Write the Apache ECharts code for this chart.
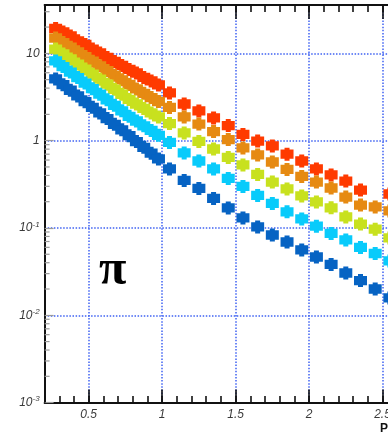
<!DOCTYPE html>
<html>
<head>
<meta charset="utf-8">
<script src="https://cdn.jsdelivr.net/npm/echarts@6/dist/echarts.min.js"></script>
<style>
  html, body { margin: 0; padding: 0; background: #ffffff; }
  #chart { width: 388px; height: 441px; }
</style>
</head>
<body>
<div id="chart"></div>
<script>
// Transverse-momentum bin centres (GeV/c)
const pT = [
  0.275, 0.325, 0.375, 0.425, 0.475, 0.525, 0.575, 0.625, 0.675, 0.725,
  0.775, 0.825, 0.875, 0.925, 0.975, 1.05, 1.15, 1.25, 1.35, 1.45,
  1.55, 1.65, 1.75, 1.85, 1.95, 2.05, 2.15, 2.25, 2.35, 2.45, 2.55
];

// Yields per class (top to bottom)
const yieldClass1 = [
  19.3, 17.6, 15.8, 13.9, 12.65, 11.2, 10.1, 8.98, 8.08, 7.27,
  6.54, 5.96, 5.30, 4.83, 4.35, 3.52, 2.63, 2.19, 1.82, 1.49,
  1.18, 0.99, 0.87, 0.70, 0.585, 0.474, 0.405, 0.345, 0.272, null, 0.245
];
const yieldClass2 = [
  15.0, 13.3, 11.75, 10.4, 9.19, 8.12, 7.19, 6.35, 5.63, 4.97,
  4.40, 3.91, 3.49, 3.12, 2.81, 2.40, 1.87, 1.55, 1.27, 1.03,
  0.825, 0.686, 0.570, 0.468, 0.389, 0.336, 0.287, 0.226, 0.183, 0.174, 0.157
];
const yieldClass3 = [
  11.2, 9.84, 8.63, 7.54, 6.61, 5.78, 5.06, 4.44, 3.88, 3.40,
  2.97, 2.63, 2.34, 2.08, 1.87, 1.57, 1.225, 0.98, 0.803, 0.642,
  0.527, 0.410, 0.336, 0.280, 0.233, 0.199, 0.170, 0.134, 0.111, 0.097, 0.077
];
const yieldClass4 = [
  8.18, 7.06, 6.11, 5.28, 4.57, 3.94, 3.41, 2.94, 2.54, 2.20,
  1.90, 1.68, 1.48, 1.31, 1.153, 0.954, 0.723, 0.585, 0.474, 0.369,
  0.299, 0.236, 0.191, 0.153, 0.127, 0.105, 0.0865, 0.0729, 0.0598, 0.0510, 0.0419
];
const yieldClass5 = [
  5.09, 4.38, 3.78, 3.25, 2.80, 2.41, 2.08, 1.79, 1.54, 1.33,
  1.14, 0.976, 0.838, 0.719, 0.617, 0.474, 0.350, 0.2835, 0.2177, 0.1695,
  0.1302, 0.1027, 0.0831, 0.0691, 0.0560, 0.0465, 0.0382, 0.0305, 0.0250, 0.0200, 0.0158
];

const classNames = ['class 1', 'class 2', 'class 3', 'class 4', 'class 5'];
const classYields = [yieldClass1, yieldClass2, yieldClass3, yieldClass4, yieldClass5];
const classColors = ['#ff3a00', '#e68a12', '#c8e11e', '#08cbfb', '#0663c3'];

// Axis tick values
const xMajorTicks = [0.5, 1, 1.5, 2, 2.5, 3];
const yDecades = [0.001, 0.01, 0.1, 1, 10];
const yMinorMantissas = [2, 3, 4, 5, 6, 7, 8, 9];

const X_MIN = 0.2, X_MAX = 3.0;
const Y_MIN = 0.001, Y_MAX = 35.8;

const yMinorValues = [];
yDecades.forEach(d => yMinorMantissas.forEach(m => {
  const v = d * m;
  if (v < Y_MAX) yMinorValues.push(v);
}));

// Square marker with short error-bar stubs above and below
const markerPath = 'path://M4,0 H9 V2 H13 V12 H9 V14 H4 V12 H0 V2 H4 Z';

const chart = echarts.init(document.getElementById('chart'), null, { renderer: 'canvas' });

const labelFont = { fontFamily: 'Liberation Sans', fontSize: 12, fontStyle: 'italic', color: '#3a3a3a' };

const frameLine = { show: true, onZero: false, lineStyle: { color: '#111111', width: 2 } };
const xTickStyle = { color: '#111111', width: 1.6 };
const gridDots = { color: '#3f62f2', width: 1.5, type: [1.5, 1.6] };

function baseX(extra) {
  return Object.assign({
    type: 'value', gridIndex: 0, min: X_MIN, max: X_MAX,
    axisLine: { show: false }, axisLabel: { show: false },
    splitLine: { show: false }
  }, extra);
}

const option = {
  animation: false,
  backgroundColor: '#ffffff',
  grid: { left: 44.6, right: -68, top: 5, bottom: 38.4, containLabel: false, outerBoundsMode: 'none' },
  xAxis: [
    baseX({
      position: 'bottom',
      axisLine: frameLine,
      axisTick: { inside: true, length: 13, customValues: xMajorTicks, lineStyle: xTickStyle },
      axisLabel: Object.assign({ show: true, margin: 6, customValues: xMajorTicks,
        formatter: v => String(v) }, labelFont),
      splitLine: { show: true, lineStyle: gridDots }
    }),
    baseX({
      position: 'bottom', interval: 0.1,
      axisTick: { inside: true, length: 6.5, lineStyle: xTickStyle }
    }),
    baseX({
      position: 'top',
      axisLine: frameLine,
      axisTick: { inside: true, length: 14, customValues: xMajorTicks, lineStyle: xTickStyle }
    }),
    baseX({
      position: 'top', interval: 0.1,
      axisTick: { inside: true, length: 7, lineStyle: xTickStyle }
    })
  ],
  yAxis: {
    type: 'log', logBase: 10, min: Y_MIN, max: Y_MAX,
    axisLine: frameLine,
    axisTick: { inside: true, length: 9, lineStyle: { color: '#9a9a9a', width: 1.2 } },
    axisLabel: Object.assign({
      margin: 5, showMaxLabel: false,
      formatter: v => {
        const n = Math.round(Math.log10(v));
        if (n === 1) return '10';
        if (n === 0) return '1';
        return '10{sup|-' + (-n) + '}';
      },
      rich: {
        sup: { fontFamily: 'Liberation Sans', fontSize: 8, fontStyle: 'italic', color: '#3a3a3a',
               padding: [0, 0, 7, 0] }
      }
    }, labelFont),
    splitLine: { show: true, lineStyle: gridDots }
  },
  series: [
    {
      type: 'custom', name: 'minor y ticks', silent: true, z: 1,
      xAxisIndex: 0, yAxisIndex: 0,
      data: yMinorValues.map(v => [X_MIN, v]),
      renderItem: (params, api) => {
        const p = api.coord([api.value(0), api.value(1)]);
        return {
          type: 'line',
          shape: { x1: p[0], y1: p[1], x2: p[0] + 5, y2: p[1] },
          style: { stroke: '#9a9a9a', lineWidth: 1.2 }
        };
      }
    }
  ].concat(classYields.map((ys, k) => ({
    type: 'scatter', name: classNames[k], z: 3 + k,
    xAxisIndex: 0, yAxisIndex: 0,
    symbol: markerPath, symbolSize: [13, 13],
    itemStyle: { color: classColors[k], opacity: 1 },
    data: pT.map((x, i) => [x, ys[i] == null ? '-' : ys[i]])
  }))),
  graphic: [
    { type: 'text', left: 99, top: 246,
      style: { text: 'π', font: 'bold 50px "Liberation Serif"', fill: '#000000' } },
    { type: 'text', left: 380, top: 423,
      style: { text: 'P', font: 'bold 12px "Liberation Sans"', fill: '#111111' } }
  ]
};

chart.setOption(option);
</script>
</body>
</html>
